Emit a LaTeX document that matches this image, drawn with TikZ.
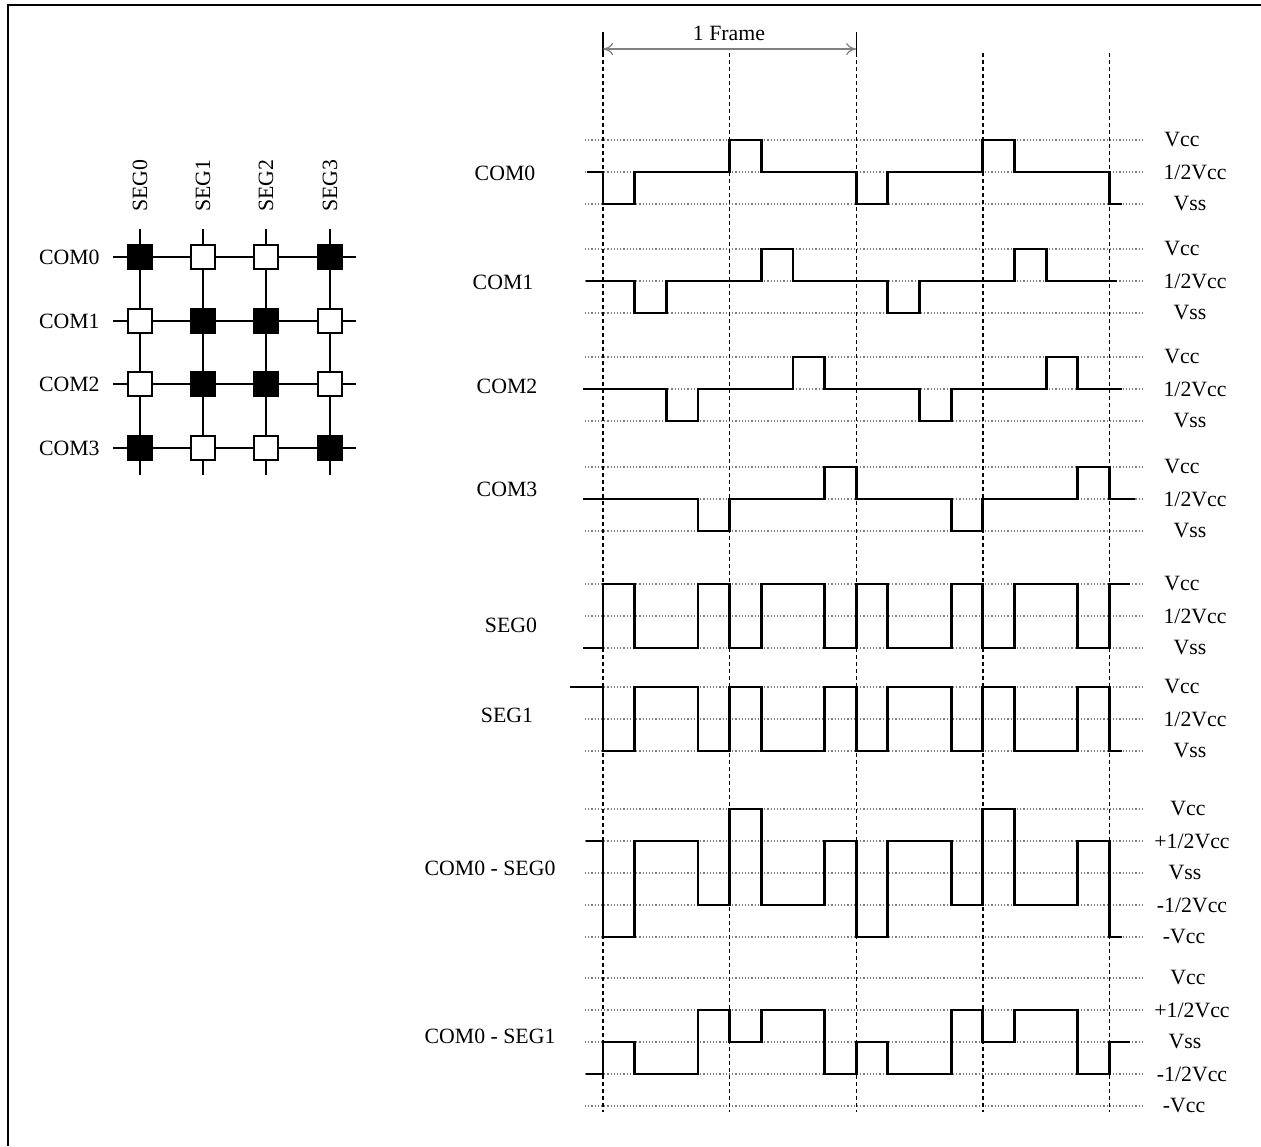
\documentclass[tikz,border=0pt]{standalone}
\usepackage{fontspec}
\setmainfont{Liberation Serif}
\usetikzlibrary{arrows.meta}

\begin{document}
\begin{tikzpicture}[
        x=0.5pt, y=-0.5pt,
        font=\fontsize{10.9}{13}\selectfont,
        every node/.style={inner sep=0pt}
    ]
    \tikzset{
        pixon/.style = {rectangle, draw=black, fill=black, line width=1pt, minimum size=12pt},
        pixoff/.style = {rectangle, draw=black, fill=white, line width=1pt, minimum size=12pt},
        wire/.style = {-, line width=1pt},
        rail/.style = {-, gray, densely dotted, line width=0.6pt},
        divider/.style = {-, dash pattern=on 2pt off 1.5pt, line width=0.7pt},
        wave/.style = {-, line width=1.4pt},
        period/.style = {gray, line width=0.6pt, {To[length=5pt,width=6pt]}-{To[length=5pt,width=6pt]}},
    }
    \useasboundingbox (0,0) rectangle (1261,1146);
    \draw[line width=1.3pt] (8,1146) -- (8,5) -- (1261,5);
    %
    % dot matrix
    \coordinate (r0w) at (113,257); \coordinate (r0e) at (356,257);
    \coordinate (r1w) at (113,321); \coordinate (r1e) at (356,321);
    \coordinate (r2w) at (113,384); \coordinate (r2e) at (356,384);
    \coordinate (r3w) at (113,448); \coordinate (r3e) at (356,448);
    \coordinate (c0n) at (140,229); \coordinate (c0s) at (140,475);
    \coordinate (c1n) at (203,229); \coordinate (c1s) at (203,475);
    \coordinate (c2n) at (266,229); \coordinate (c2s) at (266,475);
    \coordinate (c3n) at (330,229); \coordinate (c3s) at (330,475);
    \foreach \i in {0,1,2,3} {
        \draw[wire] (r\i w) -- (r\i e);
        \draw[wire] (c\i n) -- (c\i s);
    }
    \node[pixon]  at (140,257) (p00) {};
    \node[pixoff] at (203,257) (p01) {};
    \node[pixoff] at (266,257) (p02) {};
    \node[pixon]  at (330,257) (p03) {};
    \node[pixoff] at (140,321) (p10) {};
    \node[pixon]  at (203,321) (p11) {};
    \node[pixon]  at (266,321) (p12) {};
    \node[pixoff] at (330,321) (p13) {};
    \node[pixoff] at (140,384) (p20) {};
    \node[pixon]  at (203,384) (p21) {};
    \node[pixon]  at (266,384) (p22) {};
    \node[pixoff] at (330,384) (p23) {};
    \node[pixon]  at (140,448) (p30) {};
    \node[pixoff] at (203,448) (p31) {};
    \node[pixoff] at (266,448) (p32) {};
    \node[pixon]  at (330,448) (p33) {};
    \foreach \i/\y in {0/257,1/321,2/384,3/448}
        \node[anchor=east] at (100,\y) (com\i) {COM\i};
    \foreach \i/\x in {0/140,1/203,2/266,3/330}
        \node[rotate=90, anchor=west] at (\x,212) (seg\i) {SEG\i};
    %
    % level rails and frame dividers
    \foreach \y in {172,281,389,499,616,719}
        \foreach \d in {-32,0,32}
            \draw[rail] (585,\y+\d) -- (1143,\y+\d);
    \foreach \y in {873,1042}
        \foreach \d in {-64,-32,0,32,64}
            \draw[rail] (585,\y+\d) -- (1143,\y+\d);
    \foreach \x in {603,729.6,856.2,982.8,1109.4}
        \draw[divider] (\x,53) -- (\x,1112);
    \draw[line width=0.6pt] (603,32) -- (603,53);
    \draw[line width=0.6pt] (856.2,32) -- (856.2,53);
    \coordinate (fa) at (603,49);
    \coordinate (fb) at (856.2,49);
    \draw[period] (fa) -- (fb);
    \node at (729,33) (frame) {1 Frame};
    %
    % waveforms (time unit = 1/8 frame)
    \begin{scope}[shift={(603,172)}, x=15.825pt, y=16pt]
        \draw[wave] (-0.5,0) -| (0,-1) -| (1,0) -| (4,1) -| (5,0) -| (8,-1) -| (9,0) -| (12,1) -| (13,0) -| (16,-1) -- (16.4,-1);
    \end{scope}
    \begin{scope}[shift={(603,281)}, x=15.825pt, y=16pt]
        \draw[wave] (-0.55,0) -| (1,-1) -| (2,0) -| (5,1) -| (6,0) -| (9,-1) -| (10,0) -| (13,1) -| (14,0) -- (16.25,0);
    \end{scope}
    \begin{scope}[shift={(603,389)}, x=15.825pt, y=16pt]
        \draw[wave] (-0.63,0) -| (2,-1) -| (3,0) -| (6,1) -| (7,0) -| (10,-1) -| (11,0) -| (14,1) -| (15,0) -- (16.4,0);
    \end{scope}
    \begin{scope}[shift={(603,499)}, x=15.825pt, y=16pt]
        \draw[wave] (-0.63,0) -| (3,-1) -| (4,0) -| (7,1) -| (8,0) -| (11,-1) -| (12,0) -| (15,1) -| (16,0) -- (16.8,0);
    \end{scope}
    \begin{scope}[shift={(603,616)}, x=15.825pt, y=16pt]
        \draw[wave] (-0.63,-1) -| (0,1) -| (1,-1) -| (3,1) -| (4,-1) -| (5,1) -| (7,-1) -| (8,1) -| (9,-1) -| (11,1) -| (12,-1) -| (13,1) -| (15,-1) -| (16,1) -- (16.65,1);
    \end{scope}
    \begin{scope}[shift={(603,719)}, x=15.825pt, y=16pt]
        \draw[wave] (-1.05,1) -| (0,-1) -| (1,1) -| (3,-1) -| (4,1) -| (5,-1) -| (7,1) -| (8,-1) -| (9,1) -| (11,-1) -| (12,1) -| (13,-1) -| (15,1) -| (16,-1) -- (16.4,-1);
    \end{scope}
    \begin{scope}[shift={(603,873)}, x=15.825pt, y=16pt]
        \draw[wave] (-0.55,1) -| (0,-2) -| (1,1) -| (3,-1) -| (4,2) -| (5,-1) -| (7,1) -| (8,-2) -| (9,1) -| (11,-1) -| (12,2) -| (13,-1) -| (15,1) -| (16,-2) -- (16.4,-2);
    \end{scope}
    \begin{scope}[shift={(603,1042)}, x=15.825pt, y=16pt]
        \draw[wave] (-0.55,-1) -| (0,0) -| (1,-1) -| (3,1) -| (4,0) -| (5,1) -| (7,-1) -| (8,0) -| (9,-1) -| (11,1) -| (12,0) -| (13,1) -| (15,-1) -| (16,0) -- (16.65,0);
    \end{scope}
    %
    % signal names
    \node at (505,173) (lcom0) {COM0};
    \node at (503,282) (lcom1) {COM1};
    \node at (507,386) (lcom2) {COM2};
    \node at (507,489) (lcom3) {COM3};
    \node at (511,625) (lseg0) {SEG0};
    \node at (507,715) (lseg1) {SEG1};
    \node at (490,868) (ldiff0) {COM0 - SEG0};
    \node at (490,1036) (ldiff1) {COM0 - SEG1};
    %
    % voltage levels
    \foreach \y in {172,281,389,499,616,719} {
        \node at (1182,\y-32) (vcc\y) {Vcc};
        \node at (1195,\y) (half\y) {1/2Vcc};
        \node at (1190,\y+32) (vss\y) {Vss};
    }
    \foreach \y in {873,1042} {
        \node at (1188,\y-64) (vcc\y) {Vcc};
        \node at (1192,\y-32) (phalf\y) {+1/2Vcc};
        \node at (1185,\y) (vss\y) {Vss};
        \node at (1192,\y+32) (mhalf\y) {-1/2Vcc};
        \node at (1184,\y+64) (mvcc\y) {-Vcc};
    }
\end{tikzpicture}
\end{document}
